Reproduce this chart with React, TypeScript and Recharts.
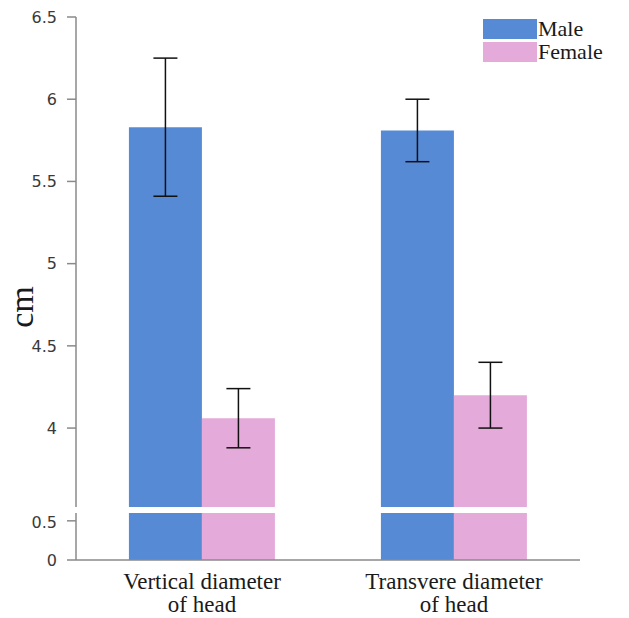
import React from "react";
import { BarChart, Bar, XAxis, YAxis, ErrorBar } from "recharts";

const categories = ["Vertical diameter of head", "Transvere diameter of head"];
const maleMean = [5.83, 5.81];
const maleErr = [0.42, 0.19];
const femaleMean = [4.06, 4.2];
const femaleErr = [0.18, 0.2];
const upperTicks = [4, 4.5, 5, 5.5, 6, 6.5];
const lowerTicks = [0, 0.5];
const seriesNames = ["Male", "Female"];

const data = categories.map((c, i) => ({
  name: c,
  male: maleMean[i],
  maleErr: maleErr[i],
  female: femaleMean[i],
  femaleErr: femaleErr[i],
}));

const BLUE = "#568ad5";
const PINK = "#e4aad9";
const AXIS = "#8a8a8a";
const SERIF = "'Liberation Serif', 'Times New Roman', serif";
const SANS = "'DejaVu Sans', Verdana, sans-serif";

const tickStyle = { fontFamily: SANS, fontSize: 16, fill: "#3a3a3a" };

const CatTick = (props: any) => {
  const { x, y, payload } = props;
  const s: string = payload.value;
  const idx = s.lastIndexOf(" of ");
  const lines = idx > 0 ? [s.slice(0, idx), s.slice(idx + 1)] : [s];
  return (
    <g>
      {lines.map((l, i) => (
        <text
          key={i}
          x={x}
          y={y + 21 + i * 23}
          textAnchor="middle"
          fontFamily={SERIF}
          fontSize={23}
          fill="#1a1a1a"
        >
          {l}
        </text>
      ))}
    </g>
  );
};

const LegendBox = () => {
  const colors = [BLUE, PINK];
  return (
    <div style={{ position: "absolute", left: 483, top: 17 }}>
      {seriesNames.map((n, i) => (
        <div key={n} style={{ display: "flex", alignItems: "center", height: 23 }}>
          <div style={{ width: 54, height: 20, background: colors[i] }} />
          <span
            style={{
              fontFamily: SERIF,
              fontSize: 22,
              lineHeight: "22px",
              color: "#1a1a1a",
              marginLeft: 1,
            }}
          >
            {n}
          </span>
        </div>
      ))}
    </div>
  );
};

export default function App() {
  return (
    <div style={{ position: "absolute", left: 0, top: 0, width: 629, height: 618, background: "#fff" }}>
      <div style={{ position: "absolute", left: 0, top: 0 }}>
        <BarChart
          width={629}
          height={507}
          data={data}
          margin={{ top: 17, right: 49, bottom: 0, left: 0 }}
          barGap={0}
          barCategoryGap="21%"
        >
          <XAxis dataKey="name" hide />
          <YAxis
            width={76}
            domain={[3.52, 6.5]}
            ticks={upperTicks}
            allowDataOverflow
            tick={tickStyle}
            tickSize={9}
            tickMargin={10}
            axisLine={{ stroke: AXIS, strokeWidth: 1.5 }}
            tickLine={{ stroke: AXIS, strokeWidth: 1.5 }}
            label={{
              content: () => (
                <text
                  transform="translate(33,307) rotate(-90)"
                  textAnchor="middle"
                  fontFamily={SERIF}
                  fontSize={34}
                  fill="#1a1a1a"
                >
                  cm
                </text>
              ),
            }}
          />
          <Bar dataKey="male" name="Male" fill={BLUE} isAnimationActive={false}>
            <ErrorBar dataKey="maleErr" width={12} stroke="#111" strokeWidth={1.5} />
          </Bar>
          <Bar dataKey="female" name="Female" fill={PINK} isAnimationActive={false}>
            <ErrorBar dataKey="femaleErr" width={12} stroke="#111" strokeWidth={1.5} />
          </Bar>
        </BarChart>
      </div>
      <div style={{ position: "absolute", left: 0, top: 513 }}>
        <BarChart
          width={629}
          height={105}
          data={data}
          margin={{ top: 0, right: 49, bottom: 0, left: 0 }}
          barGap={0}
          barCategoryGap="21%"
        >
          <XAxis
            dataKey="name"
            height={58}
            tick={<CatTick />}
            tickLine={false}
            axisLine={{ stroke: AXIS, strokeWidth: 1.5 }}
            interval={0}
          />
          <YAxis
            width={76}
            domain={[0, 0.6]}
            ticks={lowerTicks}
            allowDataOverflow
            tick={tickStyle}
            tickSize={9}
            tickMargin={10}
            axisLine={{ stroke: AXIS, strokeWidth: 1.5 }}
            tickLine={{ stroke: AXIS, strokeWidth: 1.5 }}
          />
          <Bar dataKey="male" fill={BLUE} isAnimationActive={false} />
          <Bar dataKey="female" fill={PINK} isAnimationActive={false} />
        </BarChart>
      </div>
      <LegendBox />
    </div>
  );
}
